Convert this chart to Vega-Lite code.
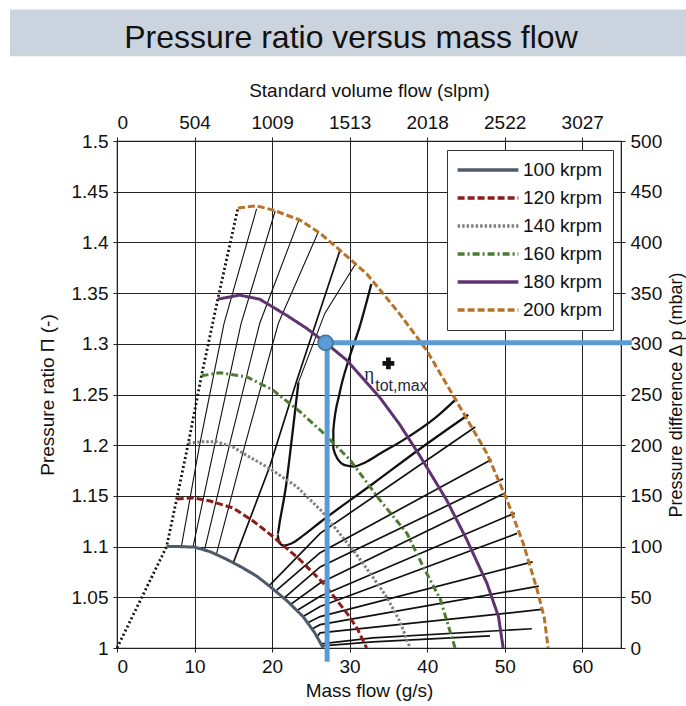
{
  "$schema": "https://vega.github.io/schema/vega-lite/v6.json",
  "width": 504,
  "height": 507,
  "autosize": {"type": "none"},
  "padding": {"left": 117, "top": 141, "right": 65, "bottom": 58},
  "background": "white",
  "title": {"text": "Pressure ratio versus mass flow", "font": "Liberation Sans", "fontSize": 32, "fontWeight": "normal", "color": "#111111", "anchor": "middle", "frame": "group", "dx": -18, "offset": -71, "baseline": "alphabetic"},
  "config": {
    "view": {"stroke": "#222222", "strokeWidth": 1.2},
    "axis": {"labelFont": "Liberation Sans", "titleFont": "Liberation Sans", "labelFontSize": 19, "titleFontSize": 19, "titleFontWeight": "normal", "labelColor": "#111111", "titleColor": "#111111", "domainColor": "#222222", "tickColor": "#222222", "gridColor": "#222222", "gridOpacity": 1, "gridWidth": 1, "tickSize": 4, "labelPadding": 5}
  },
  "datasets": {
    "speed": [
      {"s": "100 krpm", "m": 6.4, "pr": 1.1}, {"s": "100 krpm", "m": 8, "pr": 1.1}, {"s": "100 krpm", "m": 10, "pr": 1.0995}, {"s": "100 krpm", "m": 12, "pr": 1.095}, {"s": "100 krpm", "m": 14, "pr": 1.088}, {"s": "100 krpm", "m": 16, "pr": 1.08}, {"s": "100 krpm", "m": 18, "pr": 1.071}, {"s": "100 krpm", "m": 20, "pr": 1.059}, {"s": "100 krpm", "m": 22, "pr": 1.046}, {"s": "100 krpm", "m": 24, "pr": 1.031}, {"s": "100 krpm", "m": 25.5, "pr": 1.015}, {"s": "100 krpm", "m": 26.6, "pr": 1.0},
      {"s": "120 krpm", "m": 7.7, "pr": 1.147}, {"s": "120 krpm", "m": 9.8, "pr": 1.148}, {"s": "120 krpm", "m": 12, "pr": 1.145}, {"s": "120 krpm", "m": 15, "pr": 1.138}, {"s": "120 krpm", "m": 17.6, "pr": 1.125}, {"s": "120 krpm", "m": 20.1, "pr": 1.11}, {"s": "120 krpm", "m": 23.6, "pr": 1.087}, {"s": "120 krpm", "m": 26.6, "pr": 1.064}, {"s": "120 krpm", "m": 29.6, "pr": 1.035}, {"s": "120 krpm", "m": 31, "pr": 1.019}, {"s": "120 krpm", "m": 32.2, "pr": 1.0},
      {"s": "140 krpm", "m": 9.2, "pr": 1.202}, {"s": "140 krpm", "m": 11, "pr": 1.2035}, {"s": "140 krpm", "m": 12.8, "pr": 1.2035}, {"s": "140 krpm", "m": 15, "pr": 1.198}, {"s": "140 krpm", "m": 16.7, "pr": 1.19}, {"s": "140 krpm", "m": 19.7, "pr": 1.177}, {"s": "140 krpm", "m": 23.2, "pr": 1.159}, {"s": "140 krpm", "m": 26.4, "pr": 1.135}, {"s": "140 krpm", "m": 28.7, "pr": 1.113}, {"s": "140 krpm", "m": 30.9, "pr": 1.092}, {"s": "140 krpm", "m": 32.9, "pr": 1.071}, {"s": "140 krpm", "m": 34.8, "pr": 1.05}, {"s": "140 krpm", "m": 36.5, "pr": 1.026}, {"s": "140 krpm", "m": 37.8, "pr": 1.0},
      {"s": "160 krpm", "m": 10.9, "pr": 1.2685}, {"s": "160 krpm", "m": 13.3, "pr": 1.2715}, {"s": "160 krpm", "m": 16.7, "pr": 1.2675}, {"s": "160 krpm", "m": 20.1, "pr": 1.2544}, {"s": "160 krpm", "m": 23.6, "pr": 1.233}, {"s": "160 krpm", "m": 26.2, "pr": 1.215}, {"s": "160 krpm", "m": 30, "pr": 1.186}, {"s": "160 krpm", "m": 33.9, "pr": 1.146}, {"s": "160 krpm", "m": 37.4, "pr": 1.113}, {"s": "160 krpm", "m": 39.5, "pr": 1.08}, {"s": "160 krpm", "m": 41.7, "pr": 1.048}, {"s": "160 krpm", "m": 43.6, "pr": 1.0},
      {"s": "180 krpm", "m": 13, "pr": 1.344}, {"s": "180 krpm", "m": 15.8, "pr": 1.348}, {"s": "180 krpm", "m": 18.4, "pr": 1.344}, {"s": "180 krpm", "m": 21.9, "pr": 1.328}, {"s": "180 krpm", "m": 24.5, "pr": 1.315}, {"s": "180 krpm", "m": 26.9, "pr": 1.301}, {"s": "180 krpm", "m": 29.6, "pr": 1.284}, {"s": "180 krpm", "m": 33.9, "pr": 1.247}, {"s": "180 krpm", "m": 36.5, "pr": 1.22}, {"s": "180 krpm", "m": 39.1, "pr": 1.189}, {"s": "180 krpm", "m": 42.5, "pr": 1.146}, {"s": "180 krpm", "m": 45.1, "pr": 1.107}, {"s": "180 krpm", "m": 47.7, "pr": 1.064}, {"s": "180 krpm", "m": 49.2, "pr": 1.031}, {"s": "180 krpm", "m": 49.8, "pr": 1.0},
      {"s": "200 krpm", "m": 15.6, "pr": 1.434}, {"s": "200 krpm", "m": 18, "pr": 1.436}, {"s": "200 krpm", "m": 20.1, "pr": 1.432}, {"s": "200 krpm", "m": 23.6, "pr": 1.422}, {"s": "200 krpm", "m": 26.2, "pr": 1.409}, {"s": "200 krpm", "m": 28.8, "pr": 1.392}, {"s": "200 krpm", "m": 32.2, "pr": 1.369}, {"s": "200 krpm", "m": 34.8, "pr": 1.345}, {"s": "200 krpm", "m": 36.5, "pr": 1.329}, {"s": "200 krpm", "m": 39.9, "pr": 1.294}, {"s": "200 krpm", "m": 44.2, "pr": 1.238}, {"s": "200 krpm", "m": 47.7, "pr": 1.192}, {"s": "200 krpm", "m": 50.3, "pr": 1.146}, {"s": "200 krpm", "m": 52.4, "pr": 1.103}, {"s": "200 krpm", "m": 54.2, "pr": 1.057}, {"s": "200 krpm", "m": 55.1, "pr": 1.03}, {"s": "200 krpm", "m": 55.6, "pr": 1.0}
    ],
    "surge": [
      {"m": 0, "pr": 1.0}, {"m": 6.4, "pr": 1.1}, {"m": 7.7, "pr": 1.147}, {"m": 9.2, "pr": 1.202}, {"m": 10.9, "pr": 1.2685}, {"m": 13, "pr": 1.344}, {"m": 15.6, "pr": 1.434}
    ],
    "steep": [
      {"id": "t1", "o": 0, "m": 8.3, "pr": 1.1}, {"id": "t1", "o": 1, "m": 10.65, "pr": 1.2}, {"id": "t1", "o": 2, "m": 13.8, "pr": 1.32}, {"id": "t1", "o": 3, "m": 18.0, "pr": 1.433},
      {"id": "t2", "o": 0, "m": 9.8, "pr": 1.0995}, {"id": "t2", "o": 1, "m": 12.6, "pr": 1.2}, {"id": "t2", "o": 2, "m": 16.0, "pr": 1.32}, {"id": "t2", "o": 3, "m": 20.4, "pr": 1.431},
      {"id": "t3", "o": 0, "m": 11.3, "pr": 1.097}, {"id": "t3", "o": 1, "m": 14.5, "pr": 1.2}, {"id": "t3", "o": 2, "m": 18.4, "pr": 1.32}, {"id": "t3", "o": 3, "m": 23.5, "pr": 1.423},
      {"id": "t4", "o": 0, "m": 12.8, "pr": 1.092}, {"id": "t4", "o": 1, "m": 16.5, "pr": 1.2}, {"id": "t4", "o": 2, "m": 20.8, "pr": 1.32}, {"id": "t4", "o": 3, "m": 26.0, "pr": 1.411},
      {"id": "t6", "o": 0, "m": 23.4, "pr": 1.262}, {"id": "t6", "o": 1, "m": 26.8, "pr": 1.33}, {"id": "t6", "o": 2, "m": 30.7, "pr": 1.378}
    ],
    "fan": [
      {"id": "t5", "o": 0, "m": 15.0, "pr": 1.084}, {"id": "t5", "o": 1, "m": 19.7, "pr": 1.179}, {"id": "t5", "o": 2, "m": 23.2, "pr": 1.264}, {"id": "t5", "o": 3, "m": 28.75, "pr": 1.392},
      {"id": "hb", "o": 0, "m": 19.7, "pr": 1.062}, {"id": "hb", "o": 1, "m": 26.2, "pr": 1.113}, {"id": "hb", "o": 2, "m": 46.2, "pr": 1.218},
      {"id": "hc", "o": 0, "m": 20.6, "pr": 1.057}, {"id": "hc", "o": 1, "m": 26.2, "pr": 1.094}, {"id": "hc", "o": 2, "m": 48.3, "pr": 1.186},
      {"id": "hd", "o": 0, "m": 21.5, "pr": 1.049}, {"id": "hd", "o": 1, "m": 26.2, "pr": 1.08}, {"id": "hd", "o": 2, "m": 49.8, "pr": 1.167},
      {"id": "he", "o": 0, "m": 22.4, "pr": 1.043}, {"id": "he", "o": 1, "m": 26.2, "pr": 1.064}, {"id": "he", "o": 2, "m": 50.1, "pr": 1.153},
      {"id": "hf", "o": 0, "m": 23.2, "pr": 1.037}, {"id": "hf", "o": 1, "m": 26.2, "pr": 1.051}, {"id": "hf", "o": 2, "m": 51.3, "pr": 1.133},
      {"id": "hg", "o": 0, "m": 24.0, "pr": 1.031}, {"id": "hg", "o": 1, "m": 26.2, "pr": 1.041}, {"id": "hg", "o": 2, "m": 51.6, "pr": 1.113},
      {"id": "hh", "o": 0, "m": 24.6, "pr": 1.025}, {"id": "hh", "o": 1, "m": 26.2, "pr": 1.031}, {"id": "hh", "o": 2, "m": 53.6, "pr": 1.085},
      {"id": "hi", "o": 0, "m": 25.2, "pr": 1.019}, {"id": "hi", "o": 1, "m": 26.2, "pr": 1.023}, {"id": "hi", "o": 2, "m": 54.4, "pr": 1.061},
      {"id": "hj", "o": 0, "m": 25.8, "pr": 1.011}, {"id": "hj", "o": 1, "m": 26.2, "pr": 1.015}, {"id": "hj", "o": 2, "m": 54.8, "pr": 1.038},
      {"id": "hk", "o": 0, "m": 26.3, "pr": 1.004}, {"id": "hk", "o": 1, "m": 33, "pr": 1.01}, {"id": "hk", "o": 2, "m": 53.5, "pr": 1.019},
      {"id": "hl", "o": 0, "m": 26.5, "pr": 1.002}, {"id": "hl", "o": 1, "m": 33, "pr": 1.006}, {"id": "hl", "o": 2, "m": 48.1, "pr": 1.012}
    ],
    "thick": [
      {"id": "u1", "o": 0, "m": 23.4, "pr": 1.262}, {"id": "u1", "o": 1, "m": 22.6, "pr": 1.21}, {"id": "u1", "o": 2, "m": 21.8, "pr": 1.16}, {"id": "u1", "o": 3, "m": 21.0, "pr": 1.125}, {"id": "u1", "o": 4, "m": 20.7, "pr": 1.112}, {"id": "u1", "o": 5, "m": 20.9, "pr": 1.104}, {"id": "u1", "o": 6, "m": 21.5, "pr": 1.101}, {"id": "u1", "o": 7, "m": 22.5, "pr": 1.103}, {"id": "u1", "o": 8, "m": 24.2, "pr": 1.112}, {"id": "u1", "o": 9, "m": 26.2, "pr": 1.124}, {"id": "u1", "o": 10, "m": 33, "pr": 1.162}, {"id": "u1", "o": 11, "m": 39, "pr": 1.196}, {"id": "u1", "o": 12, "m": 45.3, "pr": 1.23},
      {"id": "u2", "o": 0, "m": 32.8, "pr": 1.359}, {"id": "u2", "o": 1, "m": 31.3, "pr": 1.317}, {"id": "u2", "o": 2, "m": 30.0, "pr": 1.287}, {"id": "u2", "o": 3, "m": 28.7, "pr": 1.251}, {"id": "u2", "o": 4, "m": 27.9, "pr": 1.215}, {"id": "u2", "o": 5, "m": 27.9, "pr": 1.197}, {"id": "u2", "o": 6, "m": 28.5, "pr": 1.186}, {"id": "u2", "o": 7, "m": 29.5, "pr": 1.18}, {"id": "u2", "o": 8, "m": 30.5, "pr": 1.179}, {"id": "u2", "o": 9, "m": 32, "pr": 1.183}, {"id": "u2", "o": 10, "m": 34, "pr": 1.192}, {"id": "u2", "o": 11, "m": 36.9, "pr": 1.205}, {"id": "u2", "o": 12, "m": 41.2, "pr": 1.228}, {"id": "u2", "o": 13, "m": 43.8, "pr": 1.246}
    ]
  },
  "layer": [
    {
      "data": {"values": [{}]},
      "mark": {"type": "rect", "color": "#cbd4de"},
      "encoding": {
        "x": {"datum": -13.8, "type": "quantitative", "scale": {"domain": [0, 65], "nice": false, "zero": false}, "axis": null},
        "x2": {"datum": 73.4},
        "y": {"datum": 1.6297, "type": "quantitative", "scale": {"domain": [1, 1.5], "nice": false, "zero": false}, "axis": null},
        "y2": {"datum": 1.5837}
      }
    },
    {
      "data": {"name": "steep"},
      "mark": {"type": "line", "color": "#111111", "strokeWidth": 1.1},
      "encoding": {
        "x": {"field": "m", "type": "quantitative", "scale": {"domain": [0, 65], "nice": false, "zero": false}, "axis": null},
        "y": {"field": "pr", "type": "quantitative", "scale": {"domain": [1, 1.5], "nice": false, "zero": false}, "axis": null},
        "detail": {"field": "id"},
        "order": {"field": "o"}
      }
    },
    {
      "data": {"name": "fan"},
      "mark": {"type": "line", "color": "#111111", "strokeWidth": 1.7},
      "encoding": {
        "x": {"field": "m", "type": "quantitative", "scale": {"domain": [0, 65], "nice": false, "zero": false}, "axis": null},
        "y": {"field": "pr", "type": "quantitative", "scale": {"domain": [1, 1.5], "nice": false, "zero": false}, "axis": null},
        "detail": {"field": "id"},
        "order": {"field": "o"}
      }
    },
    {
      "data": {"name": "thick"},
      "mark": {"type": "line", "color": "#111111", "strokeWidth": 2.3, "interpolate": "monotone"},
      "encoding": {
        "x": {"field": "m", "type": "quantitative", "scale": {"domain": [0, 65], "nice": false, "zero": false}, "axis": null},
        "y": {"field": "pr", "type": "quantitative", "scale": {"domain": [1, 1.5], "nice": false, "zero": false}, "axis": null},
        "detail": {"field": "id"},
        "order": {"field": "o"}
      }
    },
    {
      "data": {"name": "surge"},
      "mark": {"type": "line", "color": "#111111", "strokeWidth": 2.8, "strokeDash": [2, 2.6]},
      "encoding": {
        "x": {"field": "m", "type": "quantitative", "scale": {"domain": [0, 65], "nice": false, "zero": false}, "axis": {"orient": "top", "values": [0, 10, 20, 30, 40, 50, 60], "grid": false, "title": "Standard volume flow (slpm)", "labelExpr": "format(round(datum.value * 50.448), 'd')", "titleY": -51, "titleBaseline": "middle"}},
        "y": {"field": "pr", "type": "quantitative", "scale": {"domain": [1, 1.5], "nice": false, "zero": false}, "axis": {"orient": "right", "values": [1, 1.05, 1.1, 1.15, 1.2, 1.25, 1.3, 1.35, 1.4, 1.45, 1.5], "grid": false, "title": "Pressure difference Δ p (mbar)", "labelExpr": "format((datum.value - 1) * 1000, '.0f')", "titleAngle": 270, "titleFontSize": 18, "titleX": 55, "titleY": 253.5, "titleAlign": "center", "titleBaseline": "middle"}}
      }
    },
    {
      "data": {"name": "speed"},
      "mark": {"type": "line", "strokeWidth": 3},
      "encoding": {
        "x": {"field": "m", "type": "quantitative", "scale": {"domain": [0, 65], "nice": false, "zero": false}, "axis": {"orient": "bottom", "values": [0, 10, 20, 30, 40, 50, 60], "grid": true, "title": "Mass flow (g/s)", "titleY": 42, "titleBaseline": "middle"}},
        "y": {"field": "pr", "type": "quantitative", "scale": {"domain": [1, 1.5], "nice": false, "zero": false}, "axis": {"orient": "left", "values": [1, 1.05, 1.1, 1.15, 1.2, 1.25, 1.3, 1.35, 1.4, 1.45, 1.5], "grid": true, "title": "Pressure ratio Π (-)", "labelExpr": "format(datum.value, '~g')", "titleAngle": 270, "titleX": -70, "titleY": 253.5, "titleAlign": "center", "titleBaseline": "middle"}},
        "color": {"field": "s", "type": "nominal", "scale": {"domain": ["100 krpm", "120 krpm", "140 krpm", "160 krpm", "180 krpm", "200 krpm"], "range": ["#4d5b6b", "#8b1c1c", "#808080", "#4f7a32", "#5e3370", "#b8732a"]},
          "legend": {"orient": "none", "legendX": 330, "legendY": 9, "title": null, "fillColor": "white", "strokeColor": "#333333", "padding": 10, "symbolType": "M-3.8,0H3.8", "symbolSize": 256, "symbolStrokeWidth": 3.5, "symbolOffset": 21, "labelOffset": 25, "labelFont": "Liberation Sans", "labelFontSize": 19, "labelColor": "#111111", "rowPadding": 8}},
        "strokeDash": {"field": "s", "type": "nominal", "scale": {"domain": ["100 krpm", "120 krpm", "140 krpm", "160 krpm", "180 krpm", "200 krpm"], "range": [[1, 0], [7, 3], [2.5, 2], [7, 3, 2, 3], [1, 0], [7, 3]]}, "legend": null}
      }
    },
    {
      "data": {"values": [{"m": 27.1, "pr": 1.301, "m2": 66.4}]},
      "mark": {"type": "rule", "color": "#5b9bd5", "strokeWidth": 5},
      "encoding": {
        "x": {"field": "m", "type": "quantitative", "scale": {"domain": [0, 65], "nice": false, "zero": false}, "axis": null},
        "x2": {"field": "m2"},
        "y": {"field": "pr", "type": "quantitative", "scale": {"domain": [1, 1.5], "nice": false, "zero": false}, "axis": null}
      }
    },
    {
      "data": {"values": [{"m": 27.1, "pr": 1.301, "pr2": 0.9865}]},
      "mark": {"type": "rule", "color": "#5b9bd5", "strokeWidth": 5},
      "encoding": {
        "x": {"field": "m", "type": "quantitative", "scale": {"domain": [0, 65], "nice": false, "zero": false}, "axis": null},
        "y": {"field": "pr", "type": "quantitative", "scale": {"domain": [1, 1.5], "nice": false, "zero": false}, "axis": null},
        "y2": {"field": "pr2"}
      }
    },
    {
      "data": {"values": [{"m": 26.9, "pr": 1.301}]},
      "mark": {"type": "point", "filled": true, "size": 230, "color": "#5b9bd5", "stroke": "#41719c", "strokeWidth": 1.5, "opacity": 1},
      "encoding": {
        "x": {"field": "m", "type": "quantitative", "scale": {"domain": [0, 65], "nice": false, "zero": false}, "axis": null},
        "y": {"field": "pr", "type": "quantitative", "scale": {"domain": [1, 1.5], "nice": false, "zero": false}, "axis": null}
      }
    },
    {
      "data": {"values": [{"m": 35.0, "pr": 1.2807}]},
      "mark": {"type": "point", "shape": "cross", "filled": true, "size": 140, "color": "#111111", "opacity": 1},
      "encoding": {
        "x": {"field": "m", "type": "quantitative", "scale": {"domain": [0, 65], "nice": false, "zero": false}, "axis": null},
        "y": {"field": "pr", "type": "quantitative", "scale": {"domain": [1, 1.5], "nice": false, "zero": false}, "axis": null}
      }
    },
    {
      "data": {"values": [{"m": 31.9, "pr": 1.2643, "t": "η"}]},
      "mark": {"type": "text", "font": "Liberation Serif", "fontSize": 19, "color": "#1f2a44", "align": "left", "baseline": "alphabetic"},
      "encoding": {
        "x": {"field": "m", "type": "quantitative", "scale": {"domain": [0, 65], "nice": false, "zero": false}, "axis": null},
        "y": {"field": "pr", "type": "quantitative", "scale": {"domain": [1, 1.5], "nice": false, "zero": false}, "axis": null},
        "text": {"field": "t"}
      }
    },
    {
      "data": {"values": [{"m": 33.3, "pr": 1.2534, "t": "tot,max"}]},
      "mark": {"type": "text", "font": "Liberation Sans", "fontSize": 16, "color": "#1f2a44", "align": "left", "baseline": "alphabetic"},
      "encoding": {
        "x": {"field": "m", "type": "quantitative", "scale": {"domain": [0, 65], "nice": false, "zero": false}, "axis": null},
        "y": {"field": "pr", "type": "quantitative", "scale": {"domain": [1, 1.5], "nice": false, "zero": false}, "axis": null},
        "text": {"field": "t"}
      }
    }
  ],
  "resolve": {"axis": {"x": "independent", "y": "independent"}}
}
